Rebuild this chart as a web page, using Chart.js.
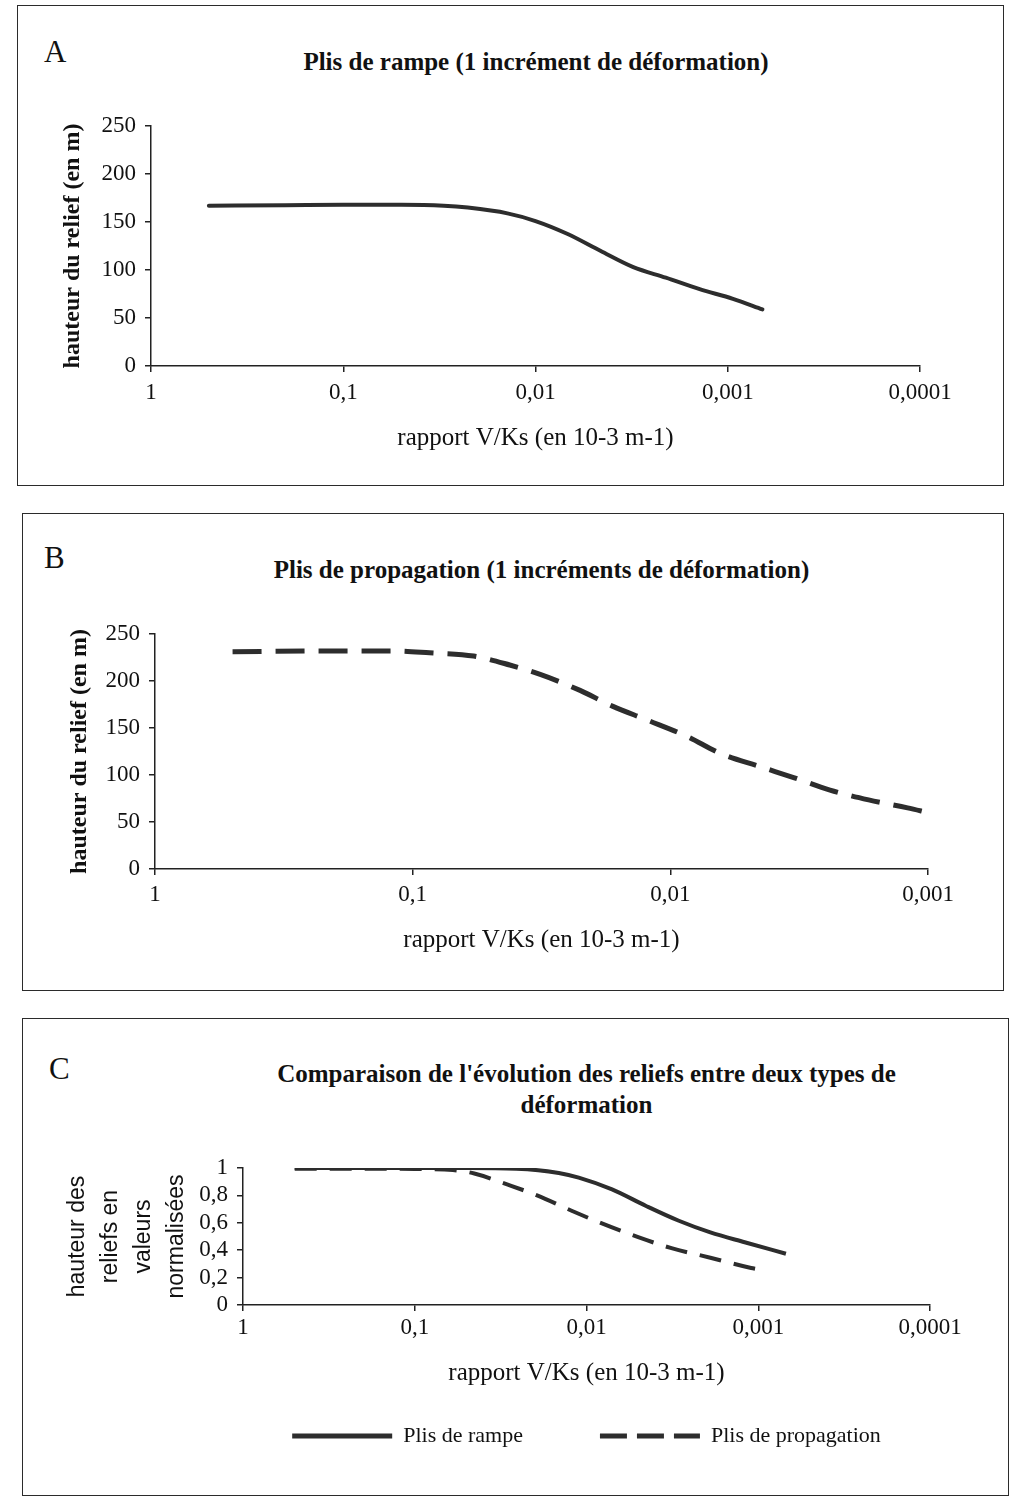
<!doctype html>
<html lang="fr">
<head>
<meta charset="utf-8">
<title>Plis de rampe / plis de propagation</title>
<script src="https://cdn.jsdelivr.net/npm/chart.js@4/dist/chart.umd.min.js"></script>
<style>
  html, body { margin: 0; background: #fff; }
  body { width: 1011px; height: 1501px; position: relative; overflow: hidden; font-family: "Liberation Serif", "Times New Roman", serif; color: #111; }
  .box { position: absolute; border: 1.5px solid #2b2b2b; box-sizing: border-box; }
  canvas { position: absolute; }
  .letter { position: absolute; font-size: 31px; line-height: 34px; }
  .title { position: absolute; text-align: center; font-weight: bold; font-size: 25px; line-height: 31px; }
</style>
</head>
<body>
  <div class="box" style="left:17px; top:5px; width:987px; height:481px;"></div>
  <div class="box" style="left:22px; top:513px; width:982px; height:478px;"></div>
  <div class="box" style="left:22px; top:1018px; width:987px; height:478px;"></div>

  <div class="letter" style="left:44px; top:35px;">A</div>
  <div class="letter" style="left:44px; top:541px;">B</div>
  <div class="letter" style="left:49px; top:1052px;">C</div>

  <div class="title" style="left:151px; width:770px; top:46px;">Plis de rampe (1 incrément de déformation)</div>
  <div class="title" style="left:155px; width:773px; top:554px;">Plis de propagation (1 incréments de déformation)</div>
  <div class="title" style="left:243px; width:687px; top:1058px;">Comparaison de l'évolution des reliefs entre deux types de<br>déformation</div>

  <canvas id="chartA" width="986" height="480" style="left:17px; top:5px;"></canvas>
  <canvas id="chartB" width="981" height="477" style="left:22px; top:513px;"></canvas>
  <canvas id="chartC" width="986" height="477" style="left:22px; top:1018px;"></canvas>

<script>
// x axis: rapport V/Ks, log scale read right to left
const xTickValues = [1, 0.1, 0.01, 0.001, 0.0001];
const xTickLabels = ['1', '0,1', '0,01', '0,001', '0,0001'];

const yTicksHeight = [0, 50, 100, 150, 200, 250];
const yTicksNorm = [0, 0.2, 0.4, 0.6, 0.8, 1];
const yTickLabelsNorm = ['0', '0,2', '0,4', '0,6', '0,8', '1'];

// A - plis de rampe, hauteur en m
const rampeX = [0.5, 0.2, 0.1, 0.05, 0.03, 0.0225, 0.014, 0.01, 0.0068, 0.0046, 0.0031, 0.0021, 0.0014, 0.00094, 0.00066];
const rampeH = [167, 167.5, 168, 168, 167, 165, 159, 151, 137.5, 120, 103, 92, 80, 70, 59];

// B - plis de propagation, hauteur en m
const propX = [0.5, 0.2, 0.12, 0.086, 0.058, 0.042, 0.032, 0.0224, 0.0167, 0.0123, 0.0086, 0.0064, 0.0045, 0.0033, 0.0024, 0.0017, 0.0012, 0.001];
const propH = [231, 232, 232, 230, 226.5, 217, 207, 190, 173, 158.5, 141, 123, 109, 97, 84, 73.5, 65, 60];

// C - valeurs normalisées
const rampeNormX = [0.5, 0.2, 0.1, 0.05, 0.0257, 0.0145, 0.0111, 0.0071, 0.0045, 0.0029, 0.0019, 0.0012, 0.00069];
const rampeNorm = [1.0, 1.0, 1.0, 1.0, 0.995, 0.964, 0.93, 0.844, 0.723, 0.615, 0.53, 0.458, 0.374];
const propNormX = [0.5, 0.2, 0.1, 0.06, 0.045, 0.029, 0.0194, 0.0123, 0.0087, 0.005, 0.0032, 0.0019, 0.0011, 0.001];
const propNorm = [0.995, 0.995, 0.993, 0.985, 0.96, 0.88, 0.80, 0.69, 0.61, 0.495, 0.415, 0.345, 0.27, 0.26];

const seriesNames = ['Plis de rampe', 'Plis de propagation'];

Chart.defaults.font.family = '"Liberation Serif", "Times New Roman", serif';
Chart.defaults.color = '#111';

const ink = '#2d2d2d';
const axisInk = '#222';

function points(xs, ys) {
  return xs.map((x, i) => ({ x, y: ys[i] }));
}

// centres the legend row under the plot area instead of the whole canvas
const legendUnderPlot = {
  id: 'legendUnderPlot',
  beforeDraw(chart) {
    const lg = chart.legend;
    if (!lg || !chart.options.plugins.legend.display) return;
    const cx = (chart.chartArea.left + chart.chartArea.right) / 2;
    const half = (lg.lineWidths[0] + lg.options.labels.padding) / 2 + 2;
    lg.left = cx - half;
    lg.right = cx + half;
  }
};

function xScale(o) {
  return {
    type: 'logarithmic',
    reverse: true,
    min: o.min,
    max: 1,
    afterBuildTicks: s => { s.ticks = o.ticks.map(v => ({ value: v })); },
    afterFit: s => { s.height = o.height; },
    ticks: {
      autoSkip: false, maxRotation: 0, padding: o.tickPad,
      font: { size: 23 }, color: '#111',
      callback: v => xTickLabels[xTickValues.indexOf(v)]
    },
    grid: { display: true, drawOnChartArea: false, drawTicks: true, tickLength: 6, color: axisInk, lineWidth: 1.5 },
    border: { display: true, color: axisInk, width: 1.5 },
    title: {
      display: true, text: 'rapport V/Ks (en 10-3 m-1)',
      font: { size: 25 }, color: '#111',
      padding: { top: 0, bottom: o.titlePad }
    }
  };
}

function yScale(o) {
  return {
    min: o.min, max: o.max,
    afterBuildTicks: s => { s.ticks = o.ticks.map(v => ({ value: v })); },
    afterFit: s => { s.width = o.width; },
    ticks: {
      autoSkip: false, padding: 9, font: { size: 23 }, color: '#111',
      callback: (v, i) => o.labels[i]
    },
    grid: { display: true, drawOnChartArea: false, drawTicks: true, tickLength: 6, color: axisInk, lineWidth: 1.5 },
    border: { display: true, color: axisInk, width: 1.5 },
    title: {
      display: true, text: o.title, font: o.titleFont, color: '#111',
      padding: { top: o.titlePad, bottom: 0 }
    }
  };
}

const lineBase = {
  showLine: true, pointRadius: 0, pointHoverRadius: 0, fill: false,
  borderColor: ink, backgroundColor: ink,
  cubicInterpolationMode: 'monotone', borderCapStyle: 'butt'
};

// A
new Chart(document.getElementById('chartA'), {
  type: 'scatter',
  data: {
    datasets: [{ ...lineBase, label: seriesNames[0], data: points(rampeX, rampeH), borderWidth: 4, borderCapStyle: 'round' }]
  },
  options: {
    responsive: false, animation: false, events: [],
    layout: { padding: { left: 0, top: 121, right: 83, bottom: 0 } },
    plugins: { legend: { display: false }, tooltip: { enabled: false } },
    scales: {
      x: xScale({ min: 0.0001, ticks: xTickValues, height: 119, tickPad: 7, titlePad: 32 }),
      y: yScale({ min: 0, max: 250, ticks: yTicksHeight, labels: yTicksHeight.map(String), width: 134,
                  title: 'hauteur du relief (en m)', titleFont: { size: 24, weight: 'bold' }, titlePad: 41 })
    }
  }
});

// B
new Chart(document.getElementById('chartB'), {
  type: 'scatter',
  data: {
    datasets: [{ ...lineBase, label: seriesNames[1], data: points(propX, propH), borderWidth: 5, borderDash: [29, 14] }]
  },
  options: {
    responsive: false, animation: false, events: [],
    layout: { padding: { left: 0, top: 121, right: 75, bottom: 0 } },
    plugins: { legend: { display: false }, tooltip: { enabled: false } },
    scales: {
      x: xScale({ min: 0.001, ticks: xTickValues.slice(0, 4), height: 121, tickPad: 6, titlePad: 35 }),
      y: yScale({ min: 0, max: 250, ticks: yTicksHeight, labels: yTicksHeight.map(String), width: 133,
                  title: 'hauteur du relief (en m)', titleFont: { size: 24, weight: 'bold' }, titlePad: 43 })
    }
  }
});

// C
new Chart(document.getElementById('chartC'), {
  type: 'scatter',
  data: {
    datasets: [
      { ...lineBase, label: seriesNames[0], data: points(rampeNormX, rampeNorm), borderWidth: 4 },
      { ...lineBase, label: seriesNames[1], data: points(propNormX, propNorm), borderWidth: 4, borderDash: [22, 13] }
    ]
  },
  options: {
    responsive: false, animation: false, events: [],
    layout: { padding: { left: 0, top: 150, right: 78, bottom: 38 } },
    plugins: {
      tooltip: { enabled: false },
      legend: {
        display: true, position: 'bottom',
        labels: {
          usePointStyle: true, pointStyle: 'line', pointStyleWidth: 100,
          padding: 77, font: { size: 22 }, color: '#111',
          // point-style items lose the dataset dash, put it back
          generateLabels: chart => Chart.defaults.plugins.legend.labels.generateLabels(chart).map(item => ({
            ...item,
            lineWidth: 5,
            lineDash: chart.data.datasets[item.datasetIndex].borderDash ? [27, 10] : []
          }))
        }
      }
    },
    scales: {
      x: xScale({ min: 0.0001, ticks: xTickValues, height: 43, tickPad: 3, titlePad: -40 }),
      y: yScale({ min: 0, max: 1, ticks: yTicksNorm, labels: yTickLabelsNorm, width: 221,
                  title: ['hauteur des', 'reliefs en', 'valeurs', 'normalisées'],
                  titleFont: { family: '"Liberation Sans", Arial, sans-serif', size: 23, lineHeight: 1.43 }, titlePad: 39.5 })
    }
  },
  plugins: [legendUnderPlot]
});
</script>
</body>
</html>
